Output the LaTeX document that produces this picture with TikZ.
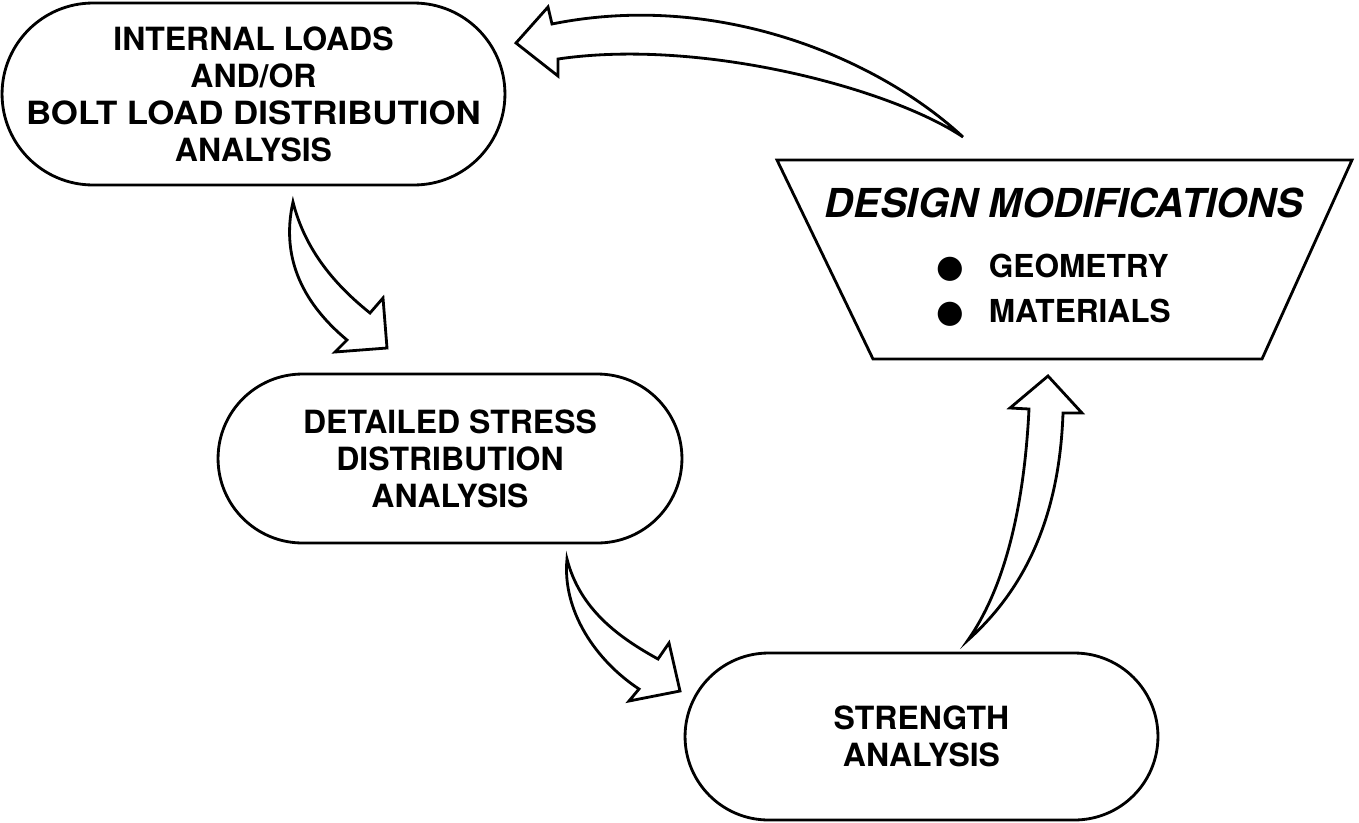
\documentclass[tikz,border=0pt]{standalone}
\usepackage{fontspec}
\setmainfont{TeX Gyre Heros}
\newfontfamily\dotfont{DejaVu Sans}
\newcommand{\boxfont}{\fontsize{18.2}{21}\selectfont\bfseries}
\newcommand{\ttlfont}{\fontsize{22.7}{26}\selectfont\bfseries\itshape}
\newcommand{\lstfont}{\fontsize{18}{25.6}\selectfont\bfseries}
\tikzset{
  stadium/.style={draw, line width=1.6pt, align=center, font=\boxfont},
  trapline/.style={draw, line width=1.6pt, line join=miter},
  blockarr/.style={draw, line width=1.6pt, fill=white, line join=miter},
}

\begin{document}
\begin{tikzpicture}[x=0.02cm, y=-0.02cm]
\useasboundingbox (0,0) rectangle (1359,822);
% boxes
\node[stadium, minimum width=10.06cm, minimum height=3.64cm, rounded corners=1.82cm] (loads) at (253.5,94)
  {INTERNAL LOADS\\AND/OR\\\scalebox{1.09}[1]{BOLT LOAD DISTRIBUTION}\\ANALYSIS};
\node[stadium, minimum width=9.28cm, minimum height=3.38cm, rounded corners=1.69cm] (detail) at (450,458.5)
  {DETAILED STRESS\\DISTRIBUTION\\ANALYSIS};
\node[stadium, minimum width=9.46cm, minimum height=3.34cm, rounded corners=1.67cm] (strength) at (921.5,736.5)
  {STRENGTH\\ANALYSIS};
% design modifications panel
\coordinate (dmtl) at (777,160);  \coordinate (dmtr) at (1352,160);
\coordinate (dmbr) at (1262,359); \coordinate (dmbl) at (873,359);
\draw[trapline] (dmtl) -- (dmtr) -- (dmbr) -- (dmbl) -- cycle;
\node[font=\ttlfont] (dmtitle) at (1064,203) {DESIGN MODIFICATIONS};
\node[font=\lstfont, align=left, anchor=west] (dmlist) at (930,290)
  {{\dotfont ●}\hspace{0.5cm}GEOMETRY\\{\dotfont ●}\hspace{0.5cm}MATERIALS};
% tails and tips of the block arrows
\coordinate (ldtail) at (293,202);   \coordinate (ldtip) at (387,348);
\coordinate (dstail) at (567,559);   \coordinate (dstip) at (680,691);
\coordinate (sdtail) at (968,640);   \coordinate (sdtip) at (1048,376);
\coordinate (fbtail) at (963,137);   \coordinate (fbtip) at (516,43);
% block arrows
\draw[blockarr] (ldtail) .. controls (280,260) and (305,305) .. (347,340) -- (335,352) -- (ldtip)
  -- (383,298) -- (370,313) .. controls (335,285) and (305,250) .. (ldtail) -- cycle;
\draw[blockarr] (dstail) .. controls (562,610) and (595,660) .. (639,689) -- (629,701) -- (dstip)
  -- (669,643) -- (658,659) .. controls (620,638) and (580,610) .. (dstail) -- cycle;
\draw[blockarr] (sdtail) .. controls (1010,580) and (1025,490) .. (1029,409) -- (1010,408) -- (sdtip)
  -- (1082,413) -- (1063,413) .. controls (1060,500) and (1035,580) .. (sdtail) -- cycle;
\draw[blockarr] (fbtail) .. controls (880,60) and (720,-10) .. (552,24) -- (548,7) -- (fbtip)
  -- (558,76) -- (558,59) .. controls (700,38) and (890,88) .. (fbtail) -- cycle;
\end{tikzpicture}
\end{document}
